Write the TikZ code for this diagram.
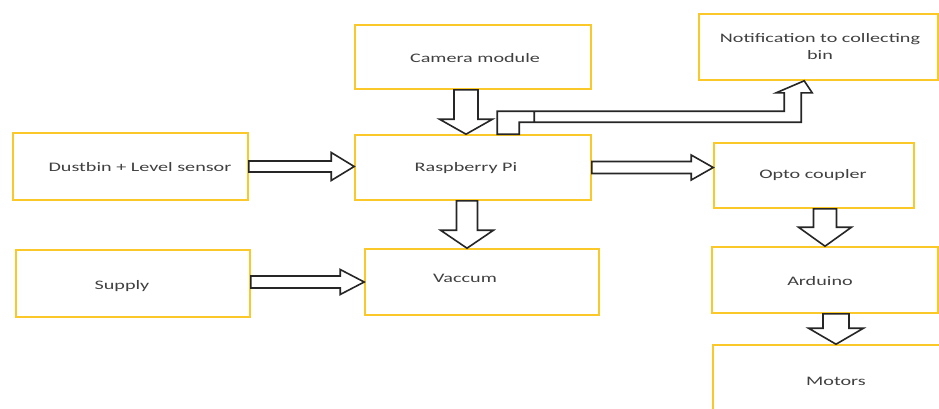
\documentclass[tikz,border=0pt]{standalone}
\usepackage{fontspec}
\usetikzlibrary{calc}
\newfontfamily\lblfont[FakeStretch=1.55]{Carlito}
\definecolor{boxgold}{RGB}{250,200,40}
\definecolor{txtgray}{RGB}{64,64,64}
\tikzset{
  box/.style={draw=boxgold, line width=1.6pt, fill=white, rectangle, inner sep=0pt},
  lbl/.style={font=\lblfont\fontsize{13pt}{16.5pt}\selectfont, text=txtgray, align=center, inner sep=0pt},
  blk/.style={draw=black!85, fill=white, line width=1.6pt, line join=miter},
}
% down block arrow: #1 from, #2 to, #3 shaft half width, #4 head half width, #5 head length
\newcommand{\blkdown}[5]{%
  \draw[blk] let \p1=(#1), \p2=(#2) in
    (\x1-#3pt,\y1) -- (\x1-#3pt,\y2+#5pt) -- (\x1-#4pt,\y2+#5pt) -- (\x1,\y2)
    -- (\x1+#4pt,\y2+#5pt) -- (\x1+#3pt,\y2+#5pt) -- (\x1+#3pt,\y1) -- cycle;}
% right block arrow
\newcommand{\blkright}[5]{%
  \draw[blk] let \p1=(#1), \p2=(#2) in
    (\x1,\y1-#3pt) -- (\x2-#5pt,\y1-#3pt) -- (\x2-#5pt,\y1-#4pt) -- (\x2,\y1)
    -- (\x2-#5pt,\y1+#4pt) -- (\x2-#5pt,\y1+#3pt) -- (\x1,\y1+#3pt) -- cycle;}
\begin{document}
\begin{tikzpicture}[x=1pt,y=-1pt]
\useasboundingbox (0,0) rectangle (939,408);
\fill[white] (0,0) rectangle (939,408);

% boxes
\node[box, minimum width=236pt, minimum height=64pt] (cam) at (473,57) {};
\node[box, minimum width=236pt, minimum height=65pt] (pi) at (473,167.5) {};
\node[box, minimum width=239pt, minimum height=66pt] (notif) at (818.5,47) {};
\node[box, minimum width=235pt, minimum height=67pt] (dust) at (130.5,166.5) {};
\node[box, minimum width=234pt, minimum height=67pt] (sup) at (133,283.5) {};
\node[box, minimum width=234pt, minimum height=66pt] (vac) at (482,282) {};
\node[box, minimum width=200pt, minimum height=65pt] (opto) at (814,175.5) {};
\node[box, minimum width=226pt, minimum height=66pt] (ard) at (825,280) {};
\node[box, minimum width=252pt, minimum height=75pt] (mot) at (839,382.5) {};

% labels
\node[lbl] (camt) at (475,58) {Camera module};
\node[lbl] (pit) at (466,168) {Raspberry Pi};
\node[lbl] (notift) at (820,46.5) {Notification to collecting\\bin};
\node[lbl] (dustt) at (140,167) {Dustbin + Level sensor};
\node[lbl] (supt) at (122,286) {Supply};
\node[lbl] (vact) at (465,278) {Vaccum};
\node[lbl] (optot) at (813,175) {Opto coupler};
\node[lbl] (ardt) at (820,281) {Arduino};
\node[lbl] (mott) at (836,381) {Motors};

% block arrows
\blkdown{[xshift=-7pt]cam.south}{[xshift=-7pt]pi.north}{12}{26.5}{15}
\blkdown{[xshift=-6pt]pi.south}{[xshift=-6pt]vac.north}{10.5}{26.5}{18}
\blkright{dust.east}{[yshift=0.5pt]pi.west}{5.5}{14}{23}
\blkright{[yshift=1.5pt]sup.east}{vac.west}{6}{12.5}{24}
\blkright{pi.east}{[yshift=8.5pt]opto.west}{6}{12.5}{22}
\blkdown{ard.north |- opto.south}{ard.north}{11.5}{26.5}{19}
\blkdown{[xshift=-3pt]mot.north |- ard.south}{[xshift=-3pt]mot.north}{13}{27.5}{16}

% elbow arrow Raspberry Pi -> Notification
\draw[blk] let \p1=(pi.north west), \p2=(notif.south west) in
  (\x1+143pt,\y1) -- (\x1+143pt,\y1+23pt) -- (\x2+86pt,\y1+23pt) -- (\x2+86pt,\y2-12pt)
  -- (\x2+78pt,\y2-12pt) -- (\x2+106pt,\y2) -- (\x2+114pt,\y2-12pt) -- (\x2+103pt,\y2-12pt)
  -- (\x2+103pt,\y1+12pt) -- (\x1+165pt,\y1+12pt) -- (\x1+165pt,\y1) -- cycle
  (\x1+180pt,\y1+23pt) -- (\x1+180pt,\y1+12pt);
\end{tikzpicture}
\end{document}
